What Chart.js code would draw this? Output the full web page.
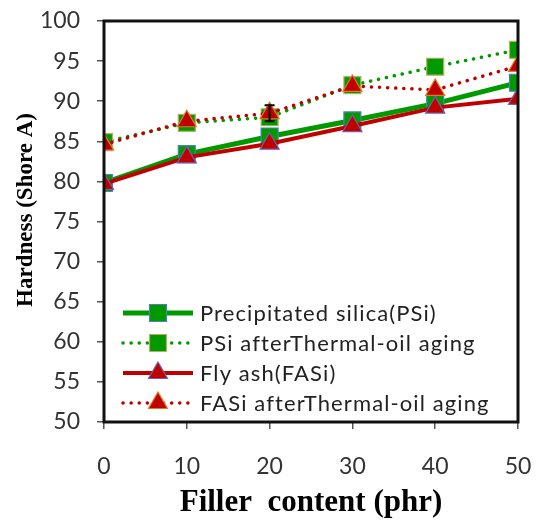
<!DOCTYPE html>
<html>
<head>
<meta charset="utf-8">
<script src="https://cdn.jsdelivr.net/npm/chart.js@4.4.1/dist/chart.umd.min.js"></script>
<style>
  html, body { margin: 0; padding: 0; background: #fff; }
  #wrap { width: 539px; height: 522px; }
</style>
</head>
<body>
<div id="wrap"><canvas id="hardness-chart" width="539" height="522"></canvas></div>
<script>
(function() {
  'use strict';

  // filler content (phr)
  var FILLER = [0, 10, 20, 30, 40, 50];

  // hardness, Shore A
  var PSI       = [79.8, 83.4, 85.6, 87.6, 89.7, 92.3];
  var PSI_AGED  = [84.9, 87.3, 88.0, 92.0, 94.3, 96.4];
  var FASI      = [79.7, 83.0, 84.7, 86.9, 89.2, 90.3];
  var FASI_AGED = [84.6, 87.5, 88.5, 91.9, 91.4, 94.4];
  var FASI_AGED_ERR = [0, 0, 1.0, 0, 0, 0];

  var SERIES_LABELS = [
    'Precipitated silica(PSi)',
    'PSi afterThermal-oil aging',
    'Fly ash(FASi)',
    'FASi afterThermal-oil aging'
  ];

  var GREEN = '#009a00';
  var RED   = '#c00000';
  var FONT_TICK  = "Lato, 'Open Sans', sans-serif";
  var FONT_TITLE = "'Liberation Serif', 'Times New Roman', serif";
  var TICK_COLOR = '#333333';

  function pts(ys) {
    return FILLER.map(function(x, i) { return { x: x, y: ys[i] }; });
  }

  /* thick frame around the plot area */
  var framePlugin = {
    id: 'frame',
    afterDatasetsDraw: function(chart) {
      var a = chart.chartArea, ctx = chart.ctx;
      ctx.save();
      ctx.strokeStyle = '#111';
      ctx.lineWidth = 3;
      ctx.strokeRect(a.left, a.top, a.right - a.left, a.bottom - a.top);
      ctx.restore();
    }
  };

  /* small error bar(s) */
  var errorPlugin = {
    id: 'errbars',
    afterDatasetsDraw: function(chart) {
      var ctx = chart.ctx, xs = chart.scales.x, ys = chart.scales.y;
      ctx.save();
      ctx.strokeStyle = '#000';
      ctx.lineWidth = 2;
      FASI_AGED_ERR.forEach(function(e, i) {
        if (!e) return;
        var px = xs.getPixelForValue(FILLER[i]);
        var top = ys.getPixelForValue(FASI_AGED[i] + e);
        var bot = ys.getPixelForValue(FASI_AGED[i] - e);
        ctx.beginPath();
        ctx.moveTo(px, top); ctx.lineTo(px, bot);
        ctx.moveTo(px - 5, top); ctx.lineTo(px + 5, top);
        ctx.moveTo(px - 5, bot); ctx.lineTo(px + 5, bot);
        ctx.stroke();
      });
      ctx.restore();
    }
  };

  function drawMarker(ctx, ds, x, y) {
    var r = ds.pointRadius;
    ctx.fillStyle = ds.pointBackgroundColor;
    ctx.strokeStyle = ds.pointBorderColor;
    ctx.lineWidth = ds.pointBorderWidth;
    ctx.beginPath();
    if (ds.pointStyle === 'rect') {
      var s = r * Math.SQRT1_2;
      ctx.rect(x - s, y - s, 2 * s, 2 * s);
    } else {
      ctx.moveTo(x, y - r);
      ctx.lineTo(x + r * 0.866, y + r * 0.5);
      ctx.lineTo(x - r * 0.866, y + r * 0.5);
      ctx.closePath();
    }
    ctx.fill();
    ctx.stroke();
  }

  /* legend sitting inside the plot area, lower left */
  var legendPlugin = {
    id: 'innerLegend',
    afterDraw: function(chart) {
      var a = chart.chartArea, ctx = chart.ctx;
      var x0 = a.left + 19, x1 = a.left + 89, y0 = a.top + 292, dy = 30;
      ctx.save();
      chart.data.datasets.forEach(function(ds, i) {
        var y = y0 + i * dy;
        ctx.save();
        ctx.strokeStyle = ds.borderColor;
        ctx.lineWidth = ds.borderWidth;
        ctx.lineCap = ds.borderCapStyle || 'butt';
        ctx.setLineDash(ds.borderDash || []);
        ctx.beginPath();
        ctx.moveTo(x0, y); ctx.lineTo(x1, y);
        ctx.stroke();
        ctx.setLineDash([]);
        drawMarker(ctx, ds, (x0 + x1) / 2, y);
        ctx.restore();
        ctx.fillStyle = '#222';
        ctx.font = '22px ' + FONT_TICK;
        ctx.letterSpacing = '1.1px';
        ctx.textBaseline = 'middle';
        ctx.fillText(ds.label, x1 + 7, y + 1);
      });
      ctx.restore();
    }
  };

  function line(label, data, color, dotted, marker, border, width, order) {
    return {
      label: label,
      data: pts(data),
      borderColor: color,
      backgroundColor: color,
      borderWidth: width,
      borderDash: dotted ? [0.1, 8] : [],
      borderCapStyle: dotted ? 'round' : 'butt',
      pointStyle: marker,
      pointRadius: marker === 'rect' ? 12 : 11,
      pointHoverRadius: 12,
      pointBackgroundColor: color,
      pointBorderColor: border,
      pointBorderWidth: 1.2,
      tension: 0,
      order: order
    };
  }

  new Chart(document.getElementById('hardness-chart'), {
    type: 'line',
    data: {
      datasets: [
        line(SERIES_LABELS[0], PSI, GREEN, false, 'rect', '#4f7fbf', 5, 3),
        line(SERIES_LABELS[1], PSI_AGED, GREEN, true, 'rect', '#b5b060', 3.5, 2),
        line(SERIES_LABELS[2], FASI, RED, false, 'triangle', '#7060a8', 4, 1),
        line(SERIES_LABELS[3], FASI_AGED, RED, true, 'triangle', '#e07a20', 3.5, 0)
      ]
    },
    options: {
      responsive: false,
      animation: false,
      devicePixelRatio: 1,
      layout: { padding: { left: 0, right: 21, top: 21, bottom: 0 } },
      plugins: {
        legend: { display: false },
        tooltip: { enabled: false }
      },
      scales: {
        x: {
          type: 'linear',
          min: 0, max: 50,
          ticks: { stepSize: 10, color: TICK_COLOR, padding: 24, maxRotation: 0, font: { family: FONT_TICK, size: 23 } },
          grid: { drawOnChartArea: false, tickLength: 7, color: '#555', lineWidth: 1.5 },
          border: { display: false },
          title: {
            display: true, text: 'Filler  content (phr)', color: '#000',
            font: { family: FONT_TITLE, size: 31, weight: 'bold' },
            padding: { top: 0, bottom: 0 }
          },
          afterFit: function(scale) {
            scale.height = 100;
            scale.paddingLeft = 0; scale.paddingRight = 0;
          }
        },
        y: {
          min: 50, max: 100,
          ticks: { stepSize: 5, color: TICK_COLOR, padding: 17, font: { family: FONT_TICK, size: 23 } },
          grid: { drawOnChartArea: false, tickLength: 7, color: '#555', lineWidth: 1.5 },
          border: { display: false },
          title: {
            display: true, text: '    Hardness (Shore A)', color: '#000',
            font: { family: FONT_TITLE, size: 23, weight: 'bold' },
            padding: { top: 12, bottom: 0 }
          },
          afterFit: function(scale) {
            scale.width = 104;
            scale.paddingTop = 0; scale.paddingBottom = 0;
          }
        }
      }
    },
    plugins: [framePlugin, errorPlugin, legendPlugin]
  });
})();
</script>
</body>
</html>
